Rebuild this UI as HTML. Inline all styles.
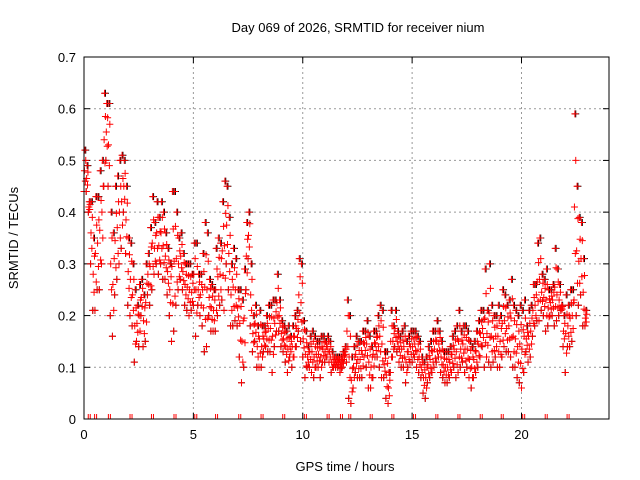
<!DOCTYPE html>
<html><head><meta charset="utf-8"><style>
body{margin:0;background:#fff;}
svg{display:block;font-family:"Liberation Sans",sans-serif;}
</style></head><body>
<svg id="chart" width="640" height="480">
<text x="358" y="32" font-size="13" text-anchor="middle">Day 069 of 2026, SRMTID for receiver nium</text>
<text x="345" y="471" font-size="13" text-anchor="middle">GPS time / hours</text>
<text transform="translate(18,238) rotate(-90)" font-size="13" text-anchor="middle">SRMTID / TECUs</text>
<g id="grid"></g><g id="ticks"></g><g id="marks"></g>
<rect x="84" y="57" width="525" height="362" fill="none" stroke="#000" stroke-width="1"/>
</svg>
<script>
const xTicks=[0,5,10,15,20];
const yTicks=[0,0.1,0.2,0.3,0.4,0.5,0.6,0.7];
const yTickLabels=["0","0.1","0.2","0.3","0.4","0.5","0.6","0.7"];
const startHour=0, stepHour=0.1;
const lo=[0.44,0.44,0.40,0.30,0.21,0.21,0.25,0.25,0.30,0.45,
0.50,0.45,0.20,0.16,0.24,0.27,0.30,0.33,0.40,0.32,
0.22,0.20,0.18,0.11,0.15,0.14,0.20,0.14,0.15,0.24,
0.22,0.25,0.28,0.30,0.28,0.30,0.27,0.27,0.24,0.20,
0.15,0.17,0.22,0.25,0.27,0.25,0.22,0.21,0.20,0.21,
0.22,0.16,0.22,0.20,0.18,0.13,0.14,0.20,0.17,0.17,
0.17,0.20,0.22,0.23,0.21,0.30,0.25,0.18,0.18,0.19,
0.18,0.12,0.07,0.10,0.25,0.31,0.18,0.13,0.15,0.10,
0.10,0.10,0.13,0.14,0.13,0.13,0.09,0.14,0.17,0.17,
0.14,0.13,0.11,0.09,0.12,0.10,0.12,0.14,0.17,0.15,
0.12,0.08,0.10,0.10,0.09,0.08,0.10,0.10,0.08,0.11,
0.11,0.12,0.11,0.09,0.10,0.10,0.10,0.09,0.10,0.12,
0.11,0.04,0.03,0.06,0.09,0.08,0.08,0.08,0.12,0.10,
0.06,0.06,0.08,0.12,0.12,0.10,0.08,0.08,0.04,0.03,
0.09,0.12,0.14,0.13,0.11,0.10,0.10,0.07,0.10,0.11,
0.11,0.12,0.10,0.09,0.08,0.05,0.04,0.07,0.08,0.09,
0.10,0.11,0.12,0.09,0.08,0.07,0.07,0.08,0.09,0.10,
0.08,0.09,0.10,0.11,0.09,0.10,0.08,0.06,0.08,0.09,
0.10,0.12,0.14,0.10,0.12,0.11,0.10,0.11,0.12,0.10,
0.10,0.12,0.14,0.13,0.13,0.12,0.10,0.10,0.08,0.07,
0.06,0.09,0.13,0.11,0.12,0.16,0.18,0.19,0.19,0.21,
0.20,0.17,0.18,0.20,0.20,0.18,0.19,0.20,0.21,0.14,
0.09,0.14,0.14,0.15,0.23,0.20,0.22,0.24,0.18,0.18];
const hi=[0.52,0.49,0.42,0.42,0.35,0.43,0.43,0.48,0.50,0.63,
0.61,0.61,0.40,0.36,0.45,0.47,0.50,0.51,0.50,0.45,
0.35,0.34,0.30,0.25,0.22,0.26,0.27,0.24,0.30,0.32,
0.37,0.43,0.38,0.42,0.39,0.42,0.40,0.36,0.33,0.30,
0.44,0.44,0.40,0.35,0.36,0.32,0.30,0.30,0.30,0.28,
0.34,0.34,0.28,0.28,0.32,0.38,0.36,0.27,0.26,0.25,
0.33,0.35,0.34,0.42,0.46,0.45,0.39,0.30,0.33,0.31,
0.25,0.25,0.23,0.29,0.38,0.40,0.30,0.20,0.22,0.18,
0.21,0.18,0.18,0.20,0.22,0.22,0.23,0.23,0.28,0.23,
0.19,0.18,0.17,0.18,0.16,0.18,0.20,0.21,0.31,0.30,
0.19,0.17,0.14,0.16,0.17,0.16,0.15,0.15,0.16,0.16,
0.15,0.16,0.15,0.13,0.12,0.12,0.12,0.12,0.13,0.14,
0.23,0.20,0.12,0.14,0.16,0.15,0.15,0.17,0.17,0.19,
0.16,0.14,0.17,0.17,0.20,0.22,0.21,0.13,0.13,0.09,
0.21,0.18,0.21,0.17,0.16,0.17,0.18,0.15,0.16,0.17,
0.17,0.17,0.16,0.15,0.12,0.11,0.12,0.14,0.15,0.17,
0.17,0.19,0.17,0.15,0.13,0.13,0.13,0.14,0.16,0.17,
0.18,0.21,0.17,0.18,0.18,0.17,0.15,0.14,0.15,0.17,
0.19,0.21,0.21,0.29,0.21,0.30,0.22,0.20,0.20,0.22,
0.20,0.25,0.24,0.22,0.23,0.27,0.22,0.21,0.20,0.22,
0.21,0.23,0.18,0.21,0.22,0.26,0.26,0.34,0.35,0.28,
0.27,0.29,0.25,0.25,0.26,0.33,0.29,0.26,0.22,0.20,
0.24,0.22,0.25,0.25,0.59,0.45,0.39,0.38,0.31,0.21];
const gapHours=[0.24,0.53,1.16,2.15,3.13,4.16,5.11,6.06,7.12,8.14,9.13,10.12,11.16,11.77,12.15,13.13,14.12,15.11,16.13,17.14,18.16,19.12,20.1,21.13,22.13];

const NS='http://www.w3.org/2000/svg';
const X0=84,X1=609,Y0=419,Y1=57,XMAX=24,YMAX=0.7;
function xs(h){return X0+(h/XMAX)*(X1-X0);}
function ys(v){return Y0-(v/YMAX)*(Y0-Y1);}
function mk(tag,attrs,parent){const e=document.createElementNS(NS,tag);for(const k in attrs)e.setAttribute(k,attrs[k]);parent.appendChild(e);return e;}
const grid=document.getElementById('grid'),ticks=document.getElementById('ticks'),marks=document.getElementById('marks');
xTicks.forEach(t=>{const x=xs(t);
 if(t>0){const g=mk('line',{x1:x,x2:x,y1:Y0,y2:Y1,stroke:'#999','stroke-dasharray':'2,3'},grid);
 
 }
 mk('line',{x1:x,x2:x,y1:Y0,y2:Y0-6,stroke:'#000'},ticks);mk('line',{x1:x,x2:x,y1:Y1,y2:Y1+6,stroke:'#000'},ticks);
 const l=mk('text',{x:x,y:Y0+20,'font-size':13,'text-anchor':'middle'},ticks);l.textContent=t;
 
 });
yTicks.forEach((t,i)=>{const y=ys(t);
 if(t>0&&t<YMAX){const g=mk('line',{x1:X0,x2:X1,y1:y,y2:y,stroke:'#999','stroke-dasharray':'2,3'},grid);
 
 }
 mk('line',{x1:X0,x2:X0+6,y1:y,y2:y,stroke:'#000'},ticks);mk('line',{x1:X1,x2:X1-6,y1:y,y2:y,stroke:'#000'},ticks);
 const l=mk('text',{x:X0-8,y:y+5,'font-size':13,'text-anchor':'end'},ticks);l.textContent=yTickLabels[i];
 
 });
function plus(x,y,col){const p=mk('path',{d:`M${x-3.5},${y}h7M${x},${y-3.5}v7`,stroke:col,'stroke-width':1,fill:'none'},marks);
 
 }
const fr=[0,0.25,0.5,0.75,1];
for(let i=0;i<lo.length;i++){
 const t=startHour+i*stepHour;
 [0,1].forEach((f,j)=>{const v=lo[i]+f*(hi[i]-lo[i]);plus(xs(t+j*4*stepHour/5),ys(v),'#000');});
}
for(let i=0;i<lo.length;i++){
 const t=startHour+i*stepHour;
 fr.forEach((f,j)=>{const v=lo[i]+f*(hi[i]-lo[i]);plus(xs(t+((j*3)%5)*stepHour/5),ys(v),'#f00');});
}
gapHours.forEach(h=>{const x=xs(h);
 const g=mk('path',{d:`M${x-1},${Y0}v-5M${x+1},${Y0}v-5`,stroke:'#f00','stroke-width':1},marks);
 
 });
</script>
</body></html>
